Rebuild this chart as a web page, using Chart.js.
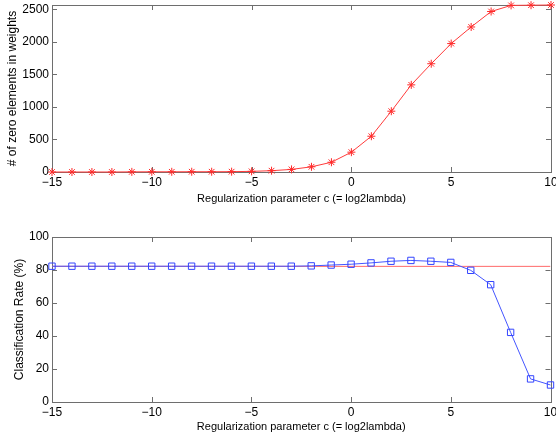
<!DOCTYPE html>
<html>
<head>
<meta charset="utf-8">
<script src="https://cdn.jsdelivr.net/npm/chart.js@4/dist/chart.umd.min.js"></script>
<style>
  body { margin: 0; background: #fff; }
  .wrap { position: absolute; left: 0; width: 556px; }
</style>
</head>
<body>
<div class="wrap" style="top:0;height:215px"><canvas class="zeros-chart" width="556" height="215"></canvas></div>
<div class="wrap" style="top:215px;height:225px"><canvas class="rate-chart" width="556" height="225"></canvas></div>
<script>
// regularization parameter c = log2(lambda)
const c_values = [-15, -14, -13, -12, -11, -10, -9, -8, -7, -6, -5, -4, -3, -2, -1, 0, 1, 2, 3, 4, 5, 6, 7, 8, 9, 10];
const zero_counts = [0, 0, 0, 0, 2, 3, 3, 4, 4, 5, 10, 20, 40, 80, 150, 305, 550, 935, 1340, 1665, 1975, 2230, 2468, 2562, 2565, 2568];
const class_rate = [82.3, 82.3, 82.3, 82.3, 82.3, 82.3, 82.3, 82.3, 82.3, 82.3, 82.3, 82.3, 82.3, 82.5, 83.0, 83.5, 84.3, 85.3, 85.8, 85.3, 84.6, 79.8, 71.1, 42.2, 14.0, 10.3];
const baseline_rate = 82.2;

const x_ticks = [-15, -10, -5, 0, 5, 10];
const y_ticks_zeros = [0, 500, 1000, 1500, 2000, 2500];
const y_ticks_rate = [0, 20, 40, 60, 80, 100];

const tickFont = { family: "Liberation Sans", size: 12 };
const xTitleFont = { family: "Liberation Sans", size: 11 };
const yTitleFont = { family: "Liberation Sans", size: 12 };

function fmt(v) {
  return v < 0 ? "\u2212" + Math.abs(v) : String(v);
}

// matlab style box with ticks pointing inward
const frame = {
  id: "frame",
  beforeDatasetsDraw(chart) {
    const a = chart.chartArea;
    const ctx = chart.ctx;
    const xs = chart.scales.x, ys = chart.scales.y;
    ctx.save();
    ctx.strokeStyle = "#6e6e6e";
    ctx.lineWidth = 1;
    ctx.strokeRect(Math.round(a.left) + 0.5, Math.round(a.top) + 0.5, Math.round(a.right - a.left), Math.round(a.bottom - a.top));
    ctx.beginPath();
    xs.ticks.forEach(t => {
      const px = Math.round(xs.getPixelForValue(t.value)) + 0.5;
      ctx.moveTo(px, a.top); ctx.lineTo(px, a.top + 5);
      ctx.moveTo(px, a.bottom); ctx.lineTo(px, a.bottom - 5);
    });
    ys.ticks.forEach(t => {
      const py = Math.round(ys.getPixelForValue(t.value)) + 0.5;
      ctx.moveTo(a.left, py); ctx.lineTo(a.left + 5, py);
      ctx.moveTo(a.right, py); ctx.lineTo(a.right - 5, py);
    });
    ctx.stroke();
    ctx.restore();
  },
};

function xAxis(height, titlePadBottom) {
  return {
    type: "linear",
    min: -15,
    max: 10,
    grid: { display: false, drawTicks: false },
    border: { display: false },
    afterBuildTicks: (s) => { s.ticks = x_ticks.map(v => ({ value: v })); },
    afterFit: (s) => { s.height = height; s.paddingLeft = 0; s.paddingRight = 0; },
    ticks: { color: "#000", font: tickFont, padding: 3, maxRotation: 0, callback: fmt },
    title: {
      display: true,
      text: "Regularization parameter c (= log2lambda)",
      color: "#000",
      font: xTitleFont,
      padding: { top: 0, bottom: titlePadBottom },
    },
  };
}

function yAxis(min, max, ticks, label, titlePad) {
  return {
    type: "linear",
    min: min,
    max: max,
    grid: { display: false, drawTicks: false },
    border: { display: false },
    afterBuildTicks: (s) => { s.ticks = ticks.map(v => ({ value: v })); },
    afterFit: (s) => { s.width = 52; s.paddingTop = 0; s.paddingBottom = 0; },
    ticks: { color: "#000", font: tickFont, padding: 3, callback: fmt },
    title: {
      display: true,
      text: label,
      color: "#000",
      font: yTitleFont,
      padding: { top: titlePad, bottom: 0 },
    },
  };
}

const zerosCtx = document.querySelector(".zeros-chart").getContext("2d");
const zeros_chart = new Chart(zerosCtx, {
  type: "line",
  data: {
    datasets: [
      {
        label: "zeros",
        data: c_values.map((c, i) => ({ x: c, y: zero_counts[i] })),
        borderColor: "#ff3b3b",
        backgroundColor: "transparent",
        borderWidth: 1,
        pointStyle: "star",
        pointRadius: 4,
        pointBorderColor: "#ff2a2a",
        pointBorderWidth: 1,
        tension: 0,
        clip: false,
      },
    ],
  },
  plugins: [frame],
  options: {
    responsive: false,
    animation: false,
    layout: { padding: { top: 5, right: 3, left: 0, bottom: 0 } },
    plugins: { legend: { display: false }, tooltip: { enabled: false } },
    scales: {
      x: xAxis(43, 9),
      y: yAxis(0, 2568, y_ticks_zeros, "# of zero elements in weights", 5.5),
    },
  },
});

const rateCtx = document.querySelector(".rate-chart").getContext("2d");
const rate_chart = new Chart(rateCtx, {
  type: "line",
  data: {
    datasets: [
      {
        label: "classification rate",
        data: c_values.map((c, i) => ({ x: c, y: class_rate[i] })),
        borderColor: "#4455ff",
        backgroundColor: "transparent",
        borderWidth: 1,
        pointStyle: "rect",
        pointRadius: 4.5,
        pointBorderColor: "#3344ff",
        pointBackgroundColor: "transparent",
        pointBorderWidth: 1,
        tension: 0,
        clip: false,
        order: 1,
      },
      {
        label: "baseline",
        data: [{ x: c_values[0], y: baseline_rate }, { x: c_values[c_values.length - 1], y: baseline_rate }],
        borderColor: "#ff6a6a",
        borderWidth: 1,
        pointRadius: 0,
        tension: 0,
        order: 2,
      },
    ],
  },
  plugins: [frame],
  options: {
    responsive: false,
    animation: false,
    layout: { padding: { top: 22, right: 3, left: 0, bottom: 0 } },
    plugins: { legend: { display: false }, tooltip: { enabled: false } },
    scales: {
      x: xAxis(38, 6),
      y: yAxis(0, 100, y_ticks_rate, "Classification Rate (%)", 12.8),
    },
  },
});
</script>
</body>
</html>
